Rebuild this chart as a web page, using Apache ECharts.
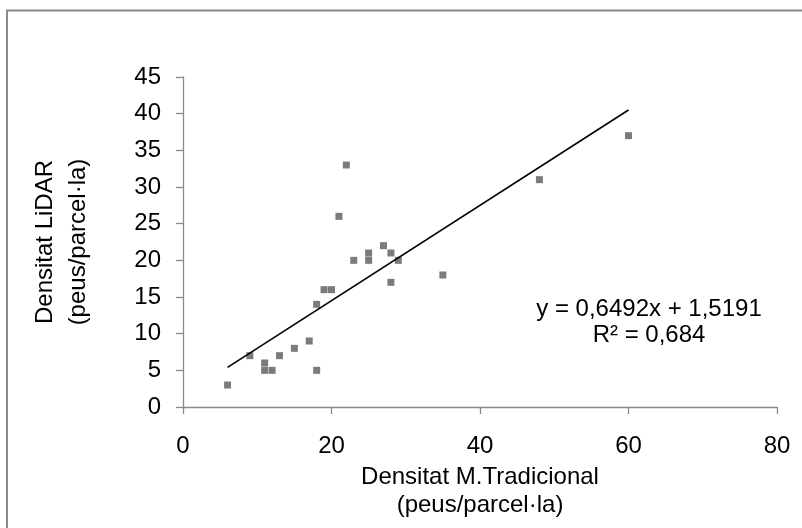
<!DOCTYPE html>
<html>
<head>
<meta charset="utf-8">
<script src="https://cdn.jsdelivr.net/npm/echarts@6/dist/echarts.min.js"></script>
<style>
  html, body { margin: 0; padding: 0; background: #fff; }
  #chart { width: 802px; height: 528px; }
</style>
</head>
<body>
<div id="chart"></div>
<script>
// punts mesurats: densitat tradicional (x) i LiDAR (y)
var tradicional = [6, 9, 11, 11, 12, 13, 15, 17, 18, 18, 19, 20, 21, 22, 23, 25, 25, 27, 28, 28, 29, 35, 48, 60]
var lidar = [3, 7, 6, 5, 5, 7, 8, 9, 5, 14, 16, 16, 26, 33, 20, 21, 20, 22, 21, 17, 20, 18, 31, 37]

// línia de tendència (extrems)
var trendX = [6, 60]
var trendY = [5.4, 40.5]

var xTicks = [0, 20, 40, 60, 80]
var yTicks = [0, 5, 10, 15, 20, 25, 30, 35, 40, 45]

var equacio = ['y = 0,6492x + 1,5191', 'R² = 0,684']

var points = tradicional.map(function (x, i) { return [x, lidar[i]] })
var trend = trendX.map(function (x, i) { return [x, trendY[i]] })

var fontFamily = '"Liberation Sans", Arial, sans-serif'
var axisColor = '#898989'
var labelColor = '#000'
var fontSize = 24

var myChart = echarts.init(document.getElementById('chart'), null, { renderer: 'canvas' })

var option = {
  animation: false,
  textStyle: { fontFamily: fontFamily },
  grid: {
    left: 183,
    right: 25,
    top: 77,
    bottom: 121,
    containLabel: false
  },
  graphic: [
    {
      type: 'rect',
      shape: { x: 7, y: 10.5, width: 900, height: 700 },
      style: { fill: 'none', stroke: '#8a8a8a', lineWidth: 2 },
      z: -1
    },
    {
      type: 'text',
      x: 649,
      y: 322,
      style: {
        text: equacio.join('\n'),
        fontSize: fontSize,
        fontFamily: fontFamily,
        fill: '#000',
        align: 'center',
        verticalAlign: 'middle',
        lineHeight: 26
      }
    }
  ],
  xAxis: {
    type: 'value',
    min: xTicks[0],
    max: xTicks[xTicks.length - 1],
    interval: 20,
    name: 'Densitat M.Tradicional\n(peus/parcel·la)',
    nameLocation: 'middle',
    nameGap: 55,
    nameTextStyle: {
      fontSize: fontSize,
      color: labelColor,
      lineHeight: 28
    },
    axisLine: { show: true, lineStyle: { color: axisColor, width: 1.3 } },
    axisTick: { show: true, length: 7, lineStyle: { color: axisColor, width: 1.3 } },
    axisLabel: { color: labelColor, fontSize: fontSize, margin: 27 },
    splitLine: { show: false }
  },
  yAxis: {
    type: 'value',
    min: yTicks[0],
    max: yTicks[yTicks.length - 1],
    interval: 5,
    name: 'Densitat LiDAR\n(peus/parcel·la)',
    nameLocation: 'middle',
    nameGap: 88,
    nameTextStyle: {
      fontSize: fontSize,
      color: labelColor,
      lineHeight: 33
    },
    axisLine: { show: true, lineStyle: { color: axisColor, width: 1.3 } },
    axisTick: { show: true, length: 7, lineStyle: { color: axisColor, width: 1.3 } },
    axisLabel: { color: labelColor, fontSize: fontSize, margin: 22 },
    splitLine: { show: false }
  },
  series: [
    {
      name: 'punts',
      type: 'scatter',
      symbol: 'rect',
      symbolSize: 7,
      itemStyle: { color: '#5a5a5a' },
      data: points,
      z: 3
    },
    {
      name: 'tendencia',
      type: 'line',
      showSymbol: false,
      lineStyle: { color: '#000', width: 1.6 },
      data: trend,
      z: 4
    }
  ]
}

myChart.setOption(option)
</script>
</body>
</html>
